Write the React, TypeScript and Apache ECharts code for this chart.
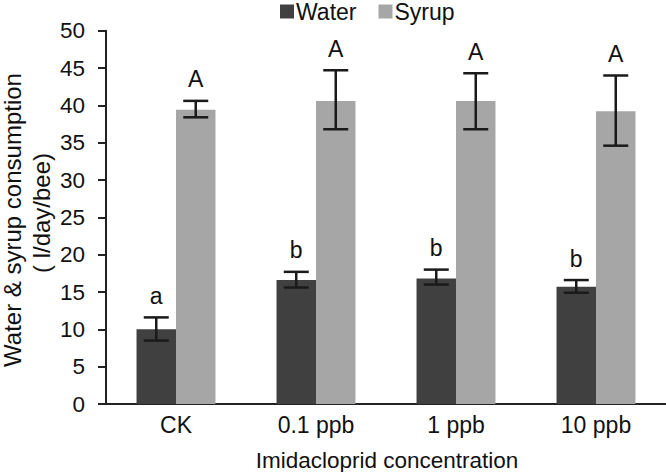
import React, { useEffect, useRef } from "react";
import * as echarts from "echarts";

const categories = ["CK", "0.1 ppb", "1 ppb", "10 ppb"];
const seriesNames = ["Water", "Syrup"];
const waterMean = [10.0, 16.6, 16.8, 15.7];
const waterLow = [8.5, 15.6, 16.0, 14.9];
const waterHigh = [11.6, 17.7, 18.0, 16.6];
const waterLetters = ["a", "b", "b", "b"];
const syrupMean = [39.4, 40.6, 40.6, 39.2];
const syrupLow = [38.4, 36.8, 36.8, 34.6];
const syrupHigh = [40.6, 44.7, 44.3, 44.0];
const syrupLetters = ["A", "A", "A", "A"];
const yMin = 0;
const yMax = 50;
const yStep = 5;
const xTitle = "Imidacloprid concentration";
const yTitleLine1 = "Water & syrup consumption";
const yTitleLine2 = "( l/day/bee)";

const FONT = "'Liberation Sans', Arial, Helvetica, sans-serif";
const BAR_FRAC = 0.282;

function errorSeries(name: string, low: number[], high: number[], letters: string[], side: number) {
  return {
    type: "custom",
    name: name + " error",
    z: 5,
    clip: false,
    silent: true,
    data: low.map((l, i) => [i, l, high[i]]),
    encode: { x: 0, y: [1, 2] },
    renderItem: (params: any, api: any) => {
      const idx = api.value(0);
      const lo = api.value(1);
      const hi = api.value(2);
      const band = api.size([1, 0])[0];
      const off = (side * band * BAR_FRAC) / 2;
      const pTop = api.coord([idx, hi]);
      const pBot = api.coord([idx, lo]);
      const x = pTop[0] + off;
      const cap = 12.5;
      const ls = { stroke: "#1a1a1a", lineWidth: 2.5 };
      return {
        type: "group",
        children: [
          { type: "line", shape: { x1: x, y1: pTop[1], x2: x, y2: pBot[1] }, style: ls },
          { type: "line", shape: { x1: x - cap, y1: pTop[1], x2: x + cap, y2: pTop[1] }, style: ls },
          { type: "line", shape: { x1: x - cap, y1: pBot[1], x2: x + cap, y2: pBot[1] }, style: ls },
          {
            type: "text",
            x: x,
            y: pTop[1] - 21.5,
            style: {
              text: letters[params.dataIndex],
              font: `23px ${FONT}`,
              fill: "#111",
              align: "center",
              verticalAlign: "middle",
            },
          },
        ],
      };
    },
  };
}

export default function App() {
  const ref = useRef<HTMLDivElement>(null);
  useEffect(() => {
    if (!ref.current) return;
    const chart = echarts.init(ref.current, null, { renderer: "svg" });
    chart.setOption({
      animation: false,
      backgroundColor: "#fff",
      textStyle: { fontFamily: FONT },
      legend: {
        data: seriesNames,
        left: 280,
        top: 0,
        padding: 0,
        icon: "rect",
        itemWidth: 14,
        itemHeight: 14,
        itemGap: 22,
        textStyle: { fontSize: 23, color: "#111", fontFamily: FONT, padding: [0, 0, 0, -3] },
      },
      grid: { left: 106, top: 30.7, width: 568, height: 373.3, containLabel: false },
      xAxis: {
        type: "category",
        data: categories,
        axisLine: { lineStyle: { color: "#222", width: 2 } },
        axisTick: { show: false },
        axisLabel: { fontSize: 23, color: "#111", margin: 9, fontFamily: FONT },
        splitLine: { show: false },
      },
      yAxis: {
        type: "value",
        min: yMin,
        max: yMax,
        interval: yStep,
        axisLine: { show: true, lineStyle: { color: "#222", width: 2 } },
        axisTick: { show: true, length: 8, lineStyle: { color: "#222", width: 2 } },
        axisLabel: { fontSize: 22.5, color: "#111", margin: 21, fontFamily: FONT },
        splitLine: { show: false },
      },
      graphic: [
        {
          type: "text",
          x: 387,
          y: 460,
          style: { text: xTitle, font: `22.5px ${FONT}`, fill: "#111", textAlign: "center", textVerticalAlign: "middle" },
        },
        {
          type: "text",
          x: 12,
          y: 220,
          rotation: Math.PI / 2,
          style: { text: yTitleLine1, font: `24px ${FONT}`, fill: "#111", textAlign: "center", textVerticalAlign: "middle" },
        },
        {
          type: "text",
          x: 41,
          y: 213,
          rotation: Math.PI / 2,
          style: { text: yTitleLine2, font: `24px ${FONT}`, fill: "#111", textAlign: "center", textVerticalAlign: "middle" },
        },
      ],
      series: [
        {
          name: "Water",
          type: "bar",
          data: waterMean,
          barWidth: `${BAR_FRAC * 100}%`,
          barGap: "0%",
          itemStyle: { color: "#404040" },
        },
        {
          name: "Syrup",
          type: "bar",
          data: syrupMean,
          barWidth: `${BAR_FRAC * 100}%`,
          barGap: "0%",
          itemStyle: { color: "#a6a6a6" },
        },
        errorSeries("Water", waterLow, waterHigh, waterLetters, -1),
        errorSeries("Syrup", syrupLow, syrupHigh, syrupLetters, 1),
      ],
    });
    return () => chart.dispose();
  }, []);
  return (
    <div
      ref={ref}
      style={{ position: "fixed", left: 0, top: 0, width: 666, height: 472, overflow: "hidden" }}
    />
  );
}
